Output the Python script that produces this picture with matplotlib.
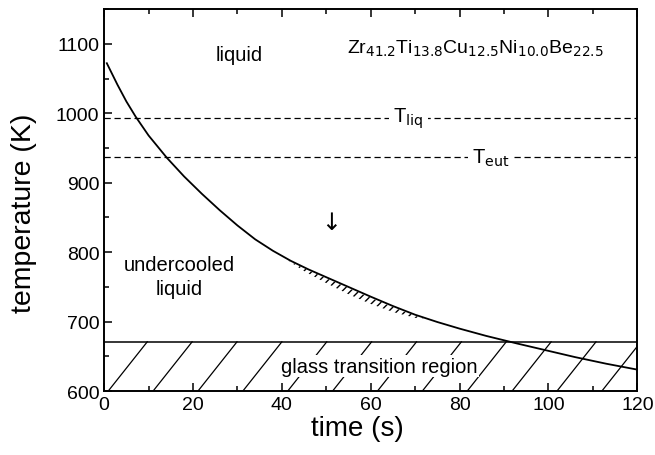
import numpy as np
import matplotlib
matplotlib.use("Agg")
import matplotlib.pyplot as plt

plt.rcParams['font.family'] = ['Liberation Sans', 'DejaVu Sans']

# cooling curve
time_s = [0.6, 3, 5, 7.1, 10, 14.1, 18, 22, 26, 30, 34, 38, 42, 46, 50, 55,
          60, 65, 70, 75, 80, 86, 93, 100, 106, 113, 120]
temp_K = [1072, 1041, 1017, 995, 968, 936, 909, 884, 860.5, 838.5, 818.5, 802, 787.6, 775.2, 764, 750,
          736, 722.5, 710, 699.5, 690, 679.5, 668.5, 658, 649, 639.5, 631]

T_liq = 993
T_eut = 937
T_glass_top = 671
T_bottom = 600

# small hatched band under the curve (crystallisation)
band_t = [41, 45, 50, 55, 60, 65, 70, 72]
band_w = [0, 4, 7, 9, 9, 7, 3, 0]

fig = plt.figure(figsize=(6.55, 4.56), dpi=100)
ax = fig.add_axes([0.159, 0.140, 0.814, 0.838])

ax.plot(time_s, temp_K, color='black', lw=1.3, zorder=3)

ax.axhline(T_liq, color='black', lw=0.9, dashes=(5, 3))
ax.axhline(T_eut, color='black', lw=0.9, dashes=(5, 3))
ax.text(68.5, T_liq, r'T$_{\rm liq}$', fontsize=14.5, ha='center', va='center',
        bbox=dict(facecolor='white', edgecolor='none', pad=3))
ax.text(87, T_eut, r'T$_{\rm eut}$', fontsize=14.5, ha='center', va='center',
        bbox=dict(facecolor='white', edgecolor='none', pad=3))

# glass transition region
ax.axhline(T_glass_top, color='black', lw=1.1)
for t0 in np.arange(0.9, 121, 10.1):
    ax.plot([t0, t0 + 8.8], [T_bottom, T_glass_top], color='black', lw=0.9, zorder=1)
ax.text(62, 636, 'glass transition region', fontsize=14.5, ha='center', va='center',
        bbox=dict(facecolor='white', edgecolor='none', pad=1), zorder=2)

bt = np.array(band_t, dtype=float)
top = np.interp(bt, time_s, temp_K) - 1.5
ax.fill_between(bt, top, top - np.array(band_w), facecolor='none', edgecolor='black',
                hatch='////', lw=0, zorder=2)

ax.text(30.5, 1084, 'liquid', fontsize=14.5, ha='center', va='center')
ax.text(17, 765, 'undercooled\nliquid', fontsize=14.5, ha='center', va='center', linespacing=1.3)
ax.text(83.5, 1094, r'Zr$_{41.2}$Ti$_{13.8}$Cu$_{12.5}$Ni$_{10.0}$Be$_{22.5}$',
        fontsize=14, ha='center', va='center')
ax.text(51, 843, '\u2193', fontsize=17, ha='center', va='center', family=['DejaVu Sans'])

ax.set_xlim(0, 120)
ax.set_ylim(600, 1150)
ax.set_xticks(np.arange(0, 121, 20))
ax.set_xticks(np.arange(0, 121, 10), minor=True)
ax.set_yticks(np.arange(600, 1101, 100))
ax.set_yticks(np.arange(600, 1151, 50), minor=True)
ax.tick_params(which='both', direction='in', top=True, right=False, labelsize=14, width=1.1)
ax.tick_params(which='major', length=6)
ax.tick_params(which='minor', length=3.5)
for s in ax.spines.values():
    s.set_linewidth(1.4)

ax.set_xlabel('time (s)', fontsize=20)
ax.set_ylabel('temperature (K)', fontsize=20.5)
ax.xaxis.set_label_coords(0.475, -0.062)
ax.yaxis.set_label_coords(-0.125, 0.469)

fig.savefig('out.png', dpi=100)
